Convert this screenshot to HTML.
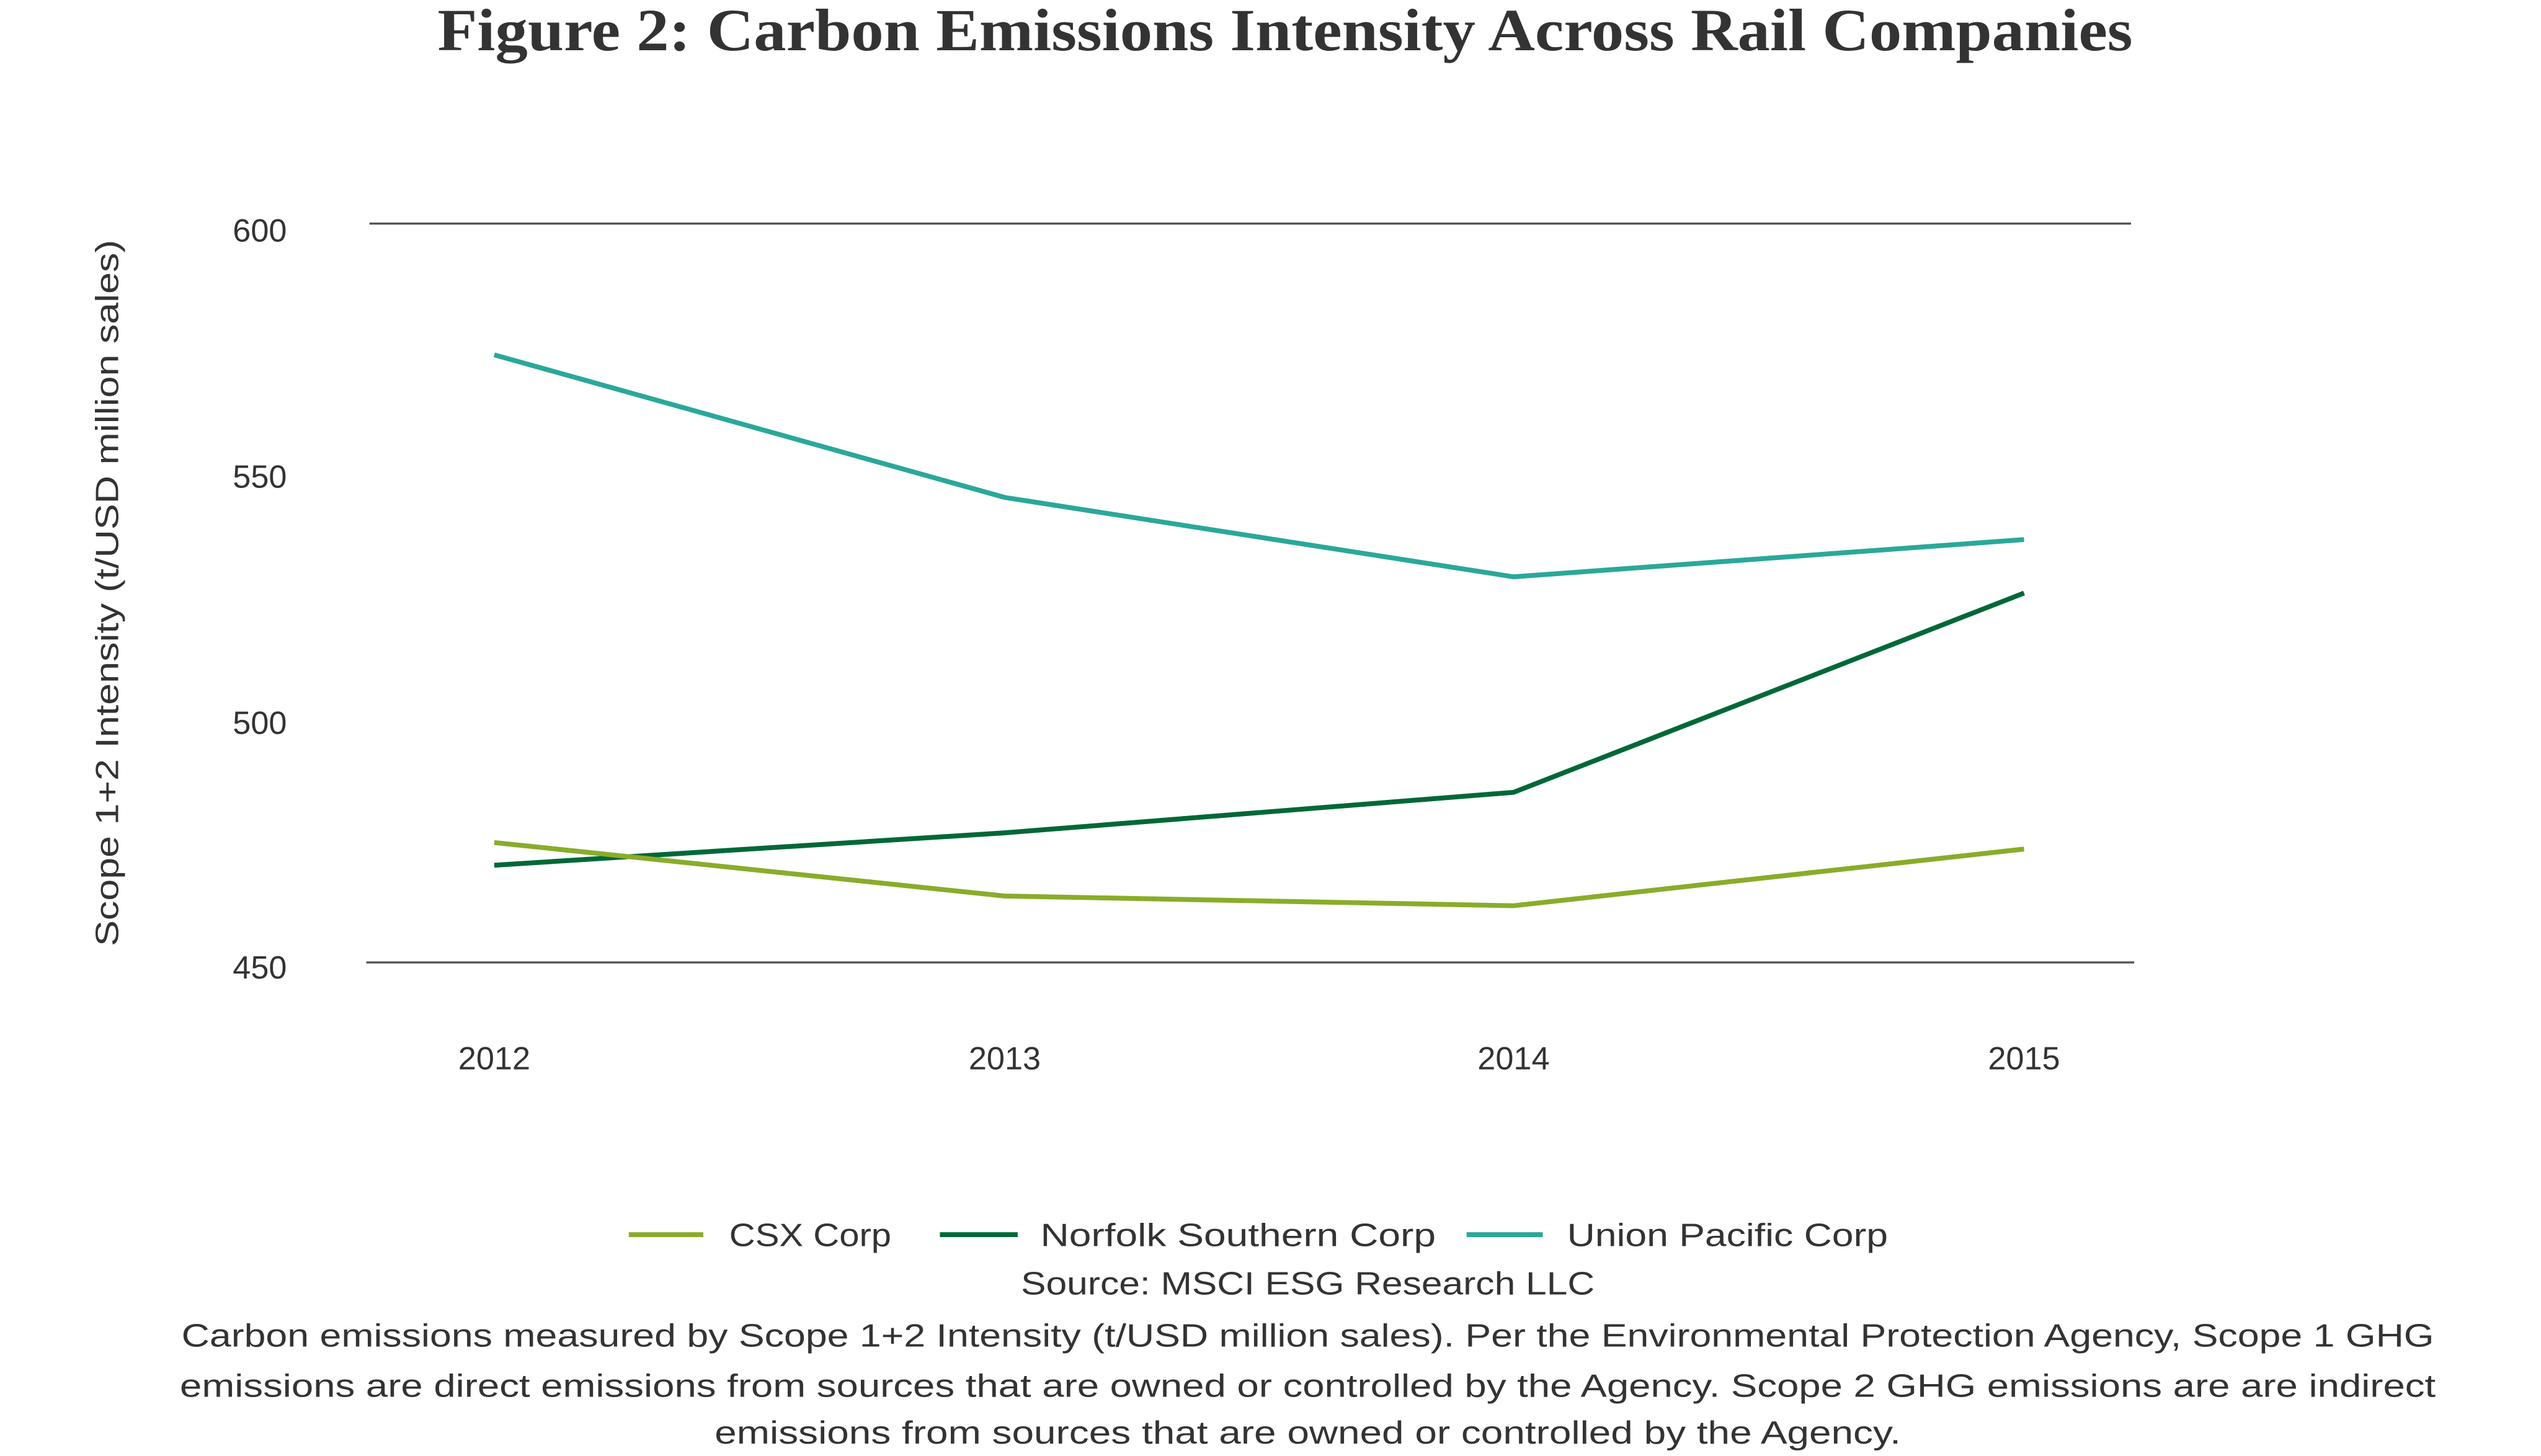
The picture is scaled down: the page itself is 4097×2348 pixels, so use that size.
<!DOCTYPE html>
<html><head><meta charset="utf-8"><style>html,body{margin:0;padding:0;background:#fff;}svg{display:block}</style></head>
<body>
<svg xmlns="http://www.w3.org/2000/svg" width="4097" height="2348" viewBox="0 0 1568 898.6">
<rect width="1568" height="898.6" fill="#fff"/>
<text x="793" y="31" text-anchor="middle" font-family="Liberation Serif, serif" font-weight="bold" font-size="37" fill="#333" textLength="1046" lengthAdjust="spacingAndGlyphs">Figure 2: Carbon Emissions Intensity Across Rail Companies</text>
<g stroke="#555" stroke-width="1.3">
<line x1="228" y1="138" x2="1315" y2="138"/>
<line x1="226" y1="594" x2="1317" y2="594"/>
</g>
<g font-family="Liberation Sans, sans-serif" font-size="20" fill="#333">
<text x="177" y="149" text-anchor="end">600</text>
<text x="177" y="301" text-anchor="end">550</text>
<text x="177" y="453" text-anchor="end">500</text>
<text x="177" y="604" text-anchor="end">450</text>
<text x="305" y="660" text-anchor="middle">2012</text>
<text x="620" y="660" text-anchor="middle">2013</text>
<text x="934" y="660" text-anchor="middle">2014</text>
<text x="1249" y="660" text-anchor="middle">2015</text>
<text transform="translate(73,366) rotate(-90)" text-anchor="middle" textLength="436" lengthAdjust="spacingAndGlyphs">Scope 1+2 Intensity (t/USD million sales)</text>
</g>
<g fill="none" stroke-width="3" stroke-linejoin="round">
<polyline stroke="#2aa89a" points="305,219 620,307 934,356 1249,333"/>
<polyline stroke="#006837" points="305,534 620,514 934,489 1249,366"/>
<polyline stroke="#8aac2a" points="305,520 620,553 934,559 1249,524"/>
</g>
<g stroke-width="3">
<line x1="388" y1="762" x2="434" y2="762" stroke="#8aac2a"/>
<line x1="580" y1="762" x2="628" y2="762" stroke="#006837"/>
<line x1="905" y1="762" x2="952" y2="762" stroke="#2aa89a"/>
</g>
<g font-family="Liberation Sans, sans-serif" font-size="20" fill="#333">
<text x="450" y="769" textLength="100" lengthAdjust="spacingAndGlyphs">CSX Corp</text>
<text x="642" y="769" textLength="244" lengthAdjust="spacingAndGlyphs">Norfolk Southern Corp</text>
<text x="967" y="769" textLength="198" lengthAdjust="spacingAndGlyphs">Union Pacific Corp</text>
<text x="807" y="799" text-anchor="middle" textLength="354" lengthAdjust="spacingAndGlyphs">Source: MSCI ESG Research LLC</text>
<text x="807" y="831" text-anchor="middle" textLength="1390" lengthAdjust="spacingAndGlyphs">Carbon emissions measured by Scope 1+2 Intensity (t/USD million sales). Per the Environmental Protection Agency, Scope 1 GHG</text>
<text x="807" y="862" text-anchor="middle" textLength="1392" lengthAdjust="spacingAndGlyphs">emissions are direct emissions from sources that are owned or controlled by the Agency. Scope 2 GHG emissions are are indirect</text>
<text x="807" y="891" text-anchor="middle" textLength="732" lengthAdjust="spacingAndGlyphs">emissions from sources that are owned or controlled by the Agency.</text>
</g>
</svg>
</body></html>
